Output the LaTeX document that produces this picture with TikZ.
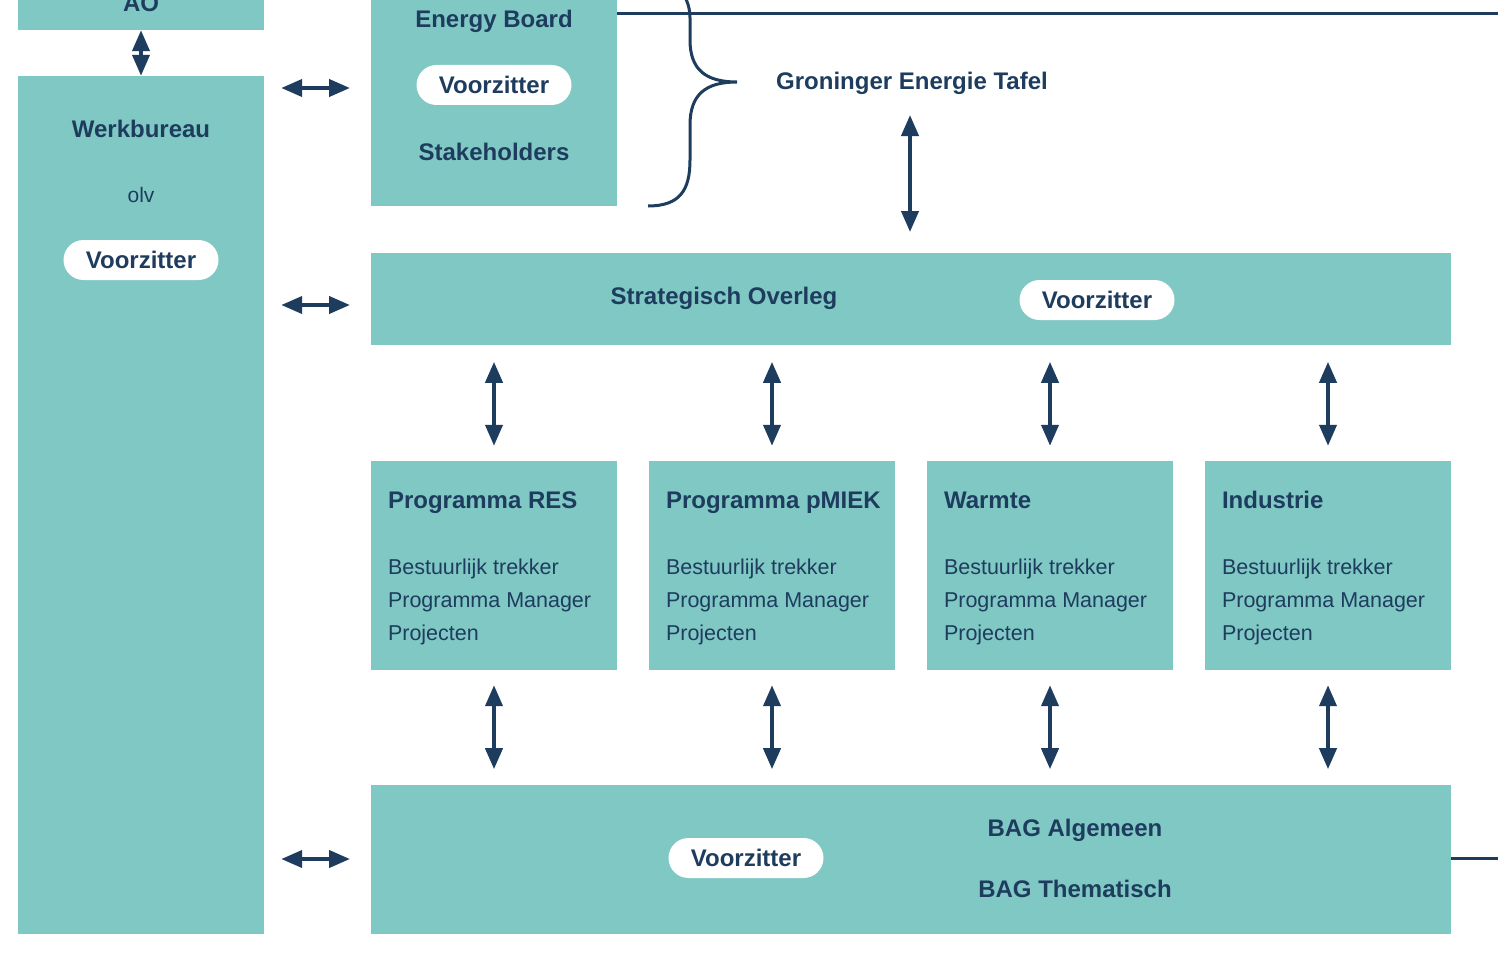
\documentclass[tikz,border=0pt]{standalone}
\usepackage{fontspec}
\setmainfont{Liberation Sans}
\usetikzlibrary{arrows.meta}
\definecolor{teal}{RGB}{128,200,196}
\definecolor{navy}{RGB}{30,60,94}
\tikzset{
  box/.style={fill=teal, draw=none, inner sep=0pt},
  pill/.style={fill=white, rounded corners=20pt, minimum width=155pt, minimum height=40pt, inner sep=0pt, text=navy, font=\fontsize{24}{27}\selectfont\bfseries},
  ttl/.style={text=navy, font=\fontsize{24}{27}\selectfont\bfseries, inner sep=0pt},
  bodytxt/.style={text=navy, font=\fontsize{21.5}{33}\selectfont, inner sep=0pt, align=left},
  darr/.style={navy, line width=4pt, {Triangle[length=21pt,width=17pt]}-{Triangle[length=21pt,width=17pt]}},
  bline/.style={navy, line width=3pt},
}
\begin{document}
\begin{tikzpicture}[x=1pt,y=-1pt]
\useasboundingbox (0,0) rectangle (1498,971);
\clip (0,0) rectangle (1498,971);
\fill[white] (0,0) rectangle (1498,971);
% left column
\node[box, minimum width=246pt, minimum height=80pt] (ao) at (141,-10) {};
\node[ttl] (aot) at (141,3) {AO};
\node[box, minimum width=246pt, minimum height=858pt] (wb) at (141,505) {};
\node[ttl] (wbt) at (141,129) {Werkbureau};
\node[text=navy, font=\fontsize{21}{24}\selectfont, inner sep=0pt] (olv) at (141,195) {olv};
\node[pill] (wbv) at (141,260) {Voorzitter};
\draw[darr] (ao.south) -- (wb.north);
% energy board
\node[box, minimum width=246pt, minimum height=256pt] (eb) at (494,78) {};
\node[ttl] (ebt) at (494,21) {Energy Board};
\node[pill] (ebv) at (494,85) {Voorzitter};
\node[ttl] (ebs) at (494,152) {Stakeholders};
\coordinate (lineR) at (1498,14);
\draw[bline] (eb.east |- lineR) -- (lineR);
% brace
\draw[bline] (648,206) .. controls (680,206) and (690,190) .. (690,160) -- (690,125) .. controls (690,95) and (705,82) .. (737,82) .. controls (705,82) and (690,69) .. (690,40) -- (690,18) .. controls (690,0) and (680,-20) .. (650,-30);
\node[ttl, anchor=west] (get) at (776,83) {Groninger Energie Tafel};
% strategisch overleg
\node[box, minimum width=1080pt, minimum height=92pt] (so) at (911,299) {};
\node[ttl] (sot) at (724,298) {Strategisch Overleg};
\node[pill] (sov) at (1097,300) {Voorzitter};
\coordinate (getb) at (910,115);
\draw[darr] (getb) -- (910,232);
% programmes
\foreach \n/\cx/\t in {p1/494/Programma RES, p2/772/Programma pMIEK, p3/1050/Warmte, p4/1328/Industrie}{
  \node[box, minimum width=246pt, minimum height=209pt] (\n) at (\cx,565.5) {};
  \node[ttl, anchor=base west] (\n t) at ([xshift=17pt]\n.west |- 0,508) {\t};
  \node[bodytxt, anchor=base west] (\n b) at ([xshift=17pt]\n.west |- 0,640) {Bestuurlijk trekker\\Programma Manager\\Projecten};
  \draw[darr] ([yshift=99pt]\n.north) -- ([yshift=15pt]\n.north);
  \draw[darr] ([yshift=-15pt]\n.south) -- ([yshift=-99pt]\n.south);
}
% BAG
\node[box, minimum width=1080pt, minimum height=149pt] (bag) at (911,859.5) {};
\node[pill] (bagv) at (746,858) {Voorzitter};
\node[ttl] (baga) at (1075,830) {BAG Algemeen};
\node[ttl] (bagt) at (1075,889) {BAG Thematisch};
\coordinate (bagR) at (1498,858);
\draw[bline] (bag.east |- bagR) -- (bagR);
% horizontal arrows
\foreach \yy/\tgt in {88/eb, 305/so, 859/bag}{
  \draw[darr] (wb.east |- 0,\yy) ++(17,0) -- (350,\yy);
}
\end{tikzpicture}
\end{document}
